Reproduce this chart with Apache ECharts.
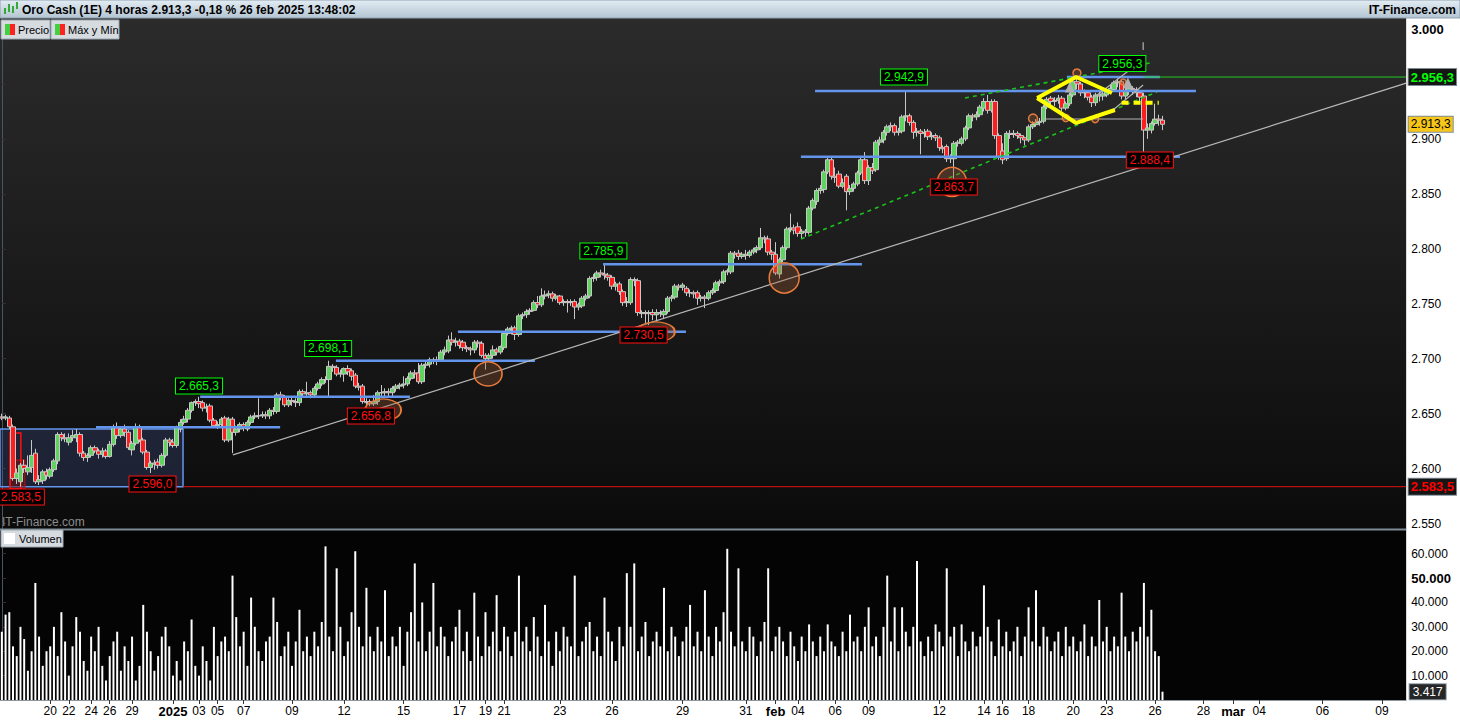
<!DOCTYPE html>
<html><head><meta charset="utf-8">
<script src="https://cdn.jsdelivr.net/npm/echarts@6/dist/echarts.min.js"></script>
<style>html,body{margin:0;padding:0;background:#fff;}#c{width:1460px;height:720px;}</style>
</head><body><div id="c"></div>
<script>
// ---------- DATA ----------
// 4h candles [open, close, low, high], 18 dic 2024 -> 26 feb 2025
const ohlc = [
[2647,2646,2644,2650],[2646,2647,2644,2649],[2646,2638,2636,2648],[2638,2591,2589,2640],[2591,2596,2586,2600],
[2588,2603,2583.5,2605],[2603,2600,2596,2608],[2597,2601,2594,2612],[2601,2612,2596,2626],[2614,2588,2586,2618],
[2588,2590,2585,2594],[2589,2597,2586,2599],[2597,2594,2590,2600],[2593,2599,2591,2601],[2599,2607,2597,2609],
[2607,2631,2604,2633],[2631,2628,2625,2633],[2628,2627,2624,2632],[2624,2628,2621,2632],[2628,2630,2625,2635],
[2628,2631,2624,2636],[2631,2614,2611,2633],[2614,2610,2607,2616],[2610,2612,2606,2614],[2612,2619,2610,2621],
[2619,2616,2614,2621],[2616,2613,2609,2618],[2613,2616,2610,2619],[2616,2611,2609,2618],[2611,2622,2610,2625],
[2622,2637,2620,2640],[2637,2630,2627,2642],[2630,2636,2628,2638],[2636,2633,2629,2640],[2633,2619,2617,2635],
[2617,2623,2612,2625],[2623,2638,2621,2641],[2638,2626,2624,2640],[2626,2615,2613,2628],[2615,2601,2599,2617],
[2601,2605,2596,2607],[2605,2604,2599,2608],[2606,2603,2600,2609],[2603,2612,2601,2614],[2612,2626,2610,2628],
[2626,2624,2620,2628],[2624,2621,2619,2627],[2621,2637,2619,2639],[2636,2642,2633,2645],[2642,2645,2640,2648],
[2645,2653,2642,2655],[2653,2660,2651,2661],[2660,2661,2657,2663],[2661,2659,2655,2665.3],[2660,2655,2652,2662],
[2655,2656,2651,2659],[2657,2644,2642,2659],[2644,2639,2637,2646],[2639,2640,2636,2643],[2640,2645,2638,2647],
[2646,2626,2624,2648],[2626,2645,2624,2647],[2645,2633,2614,2647],[2633,2636,2630,2639],[2636,2640,2633,2642],
[2640,2637,2634,2642],[2636,2642,2634,2644],[2642,2647,2640,2649],[2647,2648,2645,2651],[2648,2648,2645,2664],
[2648,2649,2646,2652],[2649,2648,2645,2652],[2648,2653,2645,2655],[2653,2652,2649,2656],[2652,2667,2650,2669],
[2667,2665,2662,2670],[2665,2658,2656,2667],[2658,2662,2656,2664],[2662,2661,2657,2665],[2661,2660,2656,2664],
[2660,2670,2657,2672],[2670,2668,2665,2672],[2668,2669,2665,2679],[2669,2667,2664,2671],[2667,2673,2665,2675],
[2673,2677,2671,2679],[2677,2681,2675,2683],[2681,2681,2678,2684],[2681,2693,2665,2698.1],[2693,2692,2688,2695],
[2692,2686,2684,2694],[2686,2687,2683,2690],[2686,2691,2679,2692],[2691,2688,2685,2694],[2689,2684,2680,2691],
[2685,2675,2673,2687],[2675,2674,2671,2678],[2675,2661,2659,2677],[2661,2660,2657,2664],[2661,2659,2656.8,2663],
[2659,2661,2657,2667],[2661,2669,2658,2671],[2669,2669,2665,2676],[2669,2670,2666,2673],[2670,2669,2665,2673],
[2669,2673,2666,2675],[2673,2675,2670,2677],[2675,2676,2672,2678],[2676,2677,2673,2684],[2677,2682,2675,2684],
[2682,2687,2680,2689],[2687,2686,2682,2690],[2687,2679,2677,2696],[2679,2694,2677,2696],[2694,2695,2691,2698],
[2695,2699,2692,2701],[2699,2698,2695,2701],[2698,2699,2694,2702],[2699,2706,2697,2708],[2706,2708,2703,2711],
[2707,2717,2705,2721],[2717,2715,2712,2724],[2715,2716,2711,2719],[2716,2712,2709,2718],[2715,2710,2707,2717],
[2710,2709,2706,2712],[2709,2708,2703,2711],[2708,2715,2705,2717],[2715,2714,2710,2717],[2714,2703,2701,2716],
[2703,2700,2690,2705],[2700,2703,2697,2705],[2703,2708,2700,2712],[2708,2706,2703,2710],[2706,2711,2704,2712],
[2710,2723,2708,2725],[2723,2727,2721,2729],[2727,2728,2722,2730],[2728,2722,2717,2730],[2722,2739,2720,2741],
[2739,2740,2736,2742],[2740,2743,2737,2745],[2743,2744,2740,2746],[2744,2751,2743,2753],[2751,2749,2746,2757],
[2749,2757,2747,2764],[2757,2758,2754,2762],[2758,2759,2755,2762],[2759,2755,2752,2761],[2755,2757,2753,2759],
[2757,2751,2749,2758],[2751,2752,2748,2754],[2752,2751,2742,2754],[2751,2752,2748,2754],[2752,2747,2736,2754],
[2747,2749,2744,2751],[2748,2755,2746,2757],[2755,2757,2753,2759],[2757,2773,2755,2775],[2773,2774,2770,2777],
[2774,2778,2771,2780],[2778,2777,2774,2781],[2777,2776,2772,2785.9],[2776,2774,2771,2778],[2774,2766,2763,2776],
[2766,2768,2762,2770],[2768,2761,2758,2770],[2761,2751,2748,2763],[2751,2752,2747,2756],[2751,2772,2749,2774],
[2772,2771,2766,2774],[2771,2742,2739,2773],[2742,2741,2737,2744],[2741,2742,2732,2744],[2742,2741,2730.5,2744],
[2742,2740,2735,2745],[2740,2742,2734,2745],[2742,2741,2738,2744],[2740,2743,2736,2745],[2743,2755,2741,2757],
[2755,2756,2752,2758],[2756,2766,2754,2768],[2766,2765,2762,2768],[2765,2767,2762,2769],[2764,2760,2757,2766],
[2760,2760,2756,2763],[2760,2759,2755,2762],[2760,2755,2749,2762],[2755,2756,2752,2758],[2756,2755,2746,2758],
[2755,2760,2753,2762],[2760,2762,2758,2764],[2762,2769,2760,2771],[2769,2770,2766,2772],[2770,2779,2768,2781],
[2779,2780,2776,2782],[2779,2796,2777,2798],[2796,2795,2791,2798],[2796,2793,2790,2799],[2793,2795,2791,2797],
[2795,2794,2790,2799],[2794,2797,2792,2799],[2797,2799,2795,2801],[2799,2801,2796,2803],[2801,2810,2799,2819],
[2810,2809,2805,2812],[2809,2797,2794,2812],[2797,2795,2790,2799],[2795,2778,2776,2806],[2777,2790,2773,2792],
[2790,2801,2788,2803],[2801,2818,2799,2820],[2818,2819,2815,2832],[2819,2817,2813,2822],[2820,2814,2811,2824],
[2814,2816,2809,2818],[2816,2815,2811,2818],[2815,2837,2813,2839],[2837,2844,2835,2846],[2843,2853,2840,2855],
[2853,2855,2850,2858],[2854,2870,2851,2872],[2870,2881,2868,2883],[2881,2866,2863,2883],[2866,2865,2860,2874],
[2868,2857,2855,2871],[2857,2860,2855,2864],[2866,2852,2835,2868],[2852,2855,2849,2858],[2855,2859,2852,2861],
[2859,2869,2857,2871],[2869,2881,2867,2883],[2881,2862,2859,2888],[2862,2874,2858,2876],[2874,2871,2868,2878],
[2872,2897,2870,2899],[2897,2899,2894,2902],[2899,2906,2896,2908],[2906,2911,2903,2913],[2911,2912,2907,2915],
[2912,2906,2903,2914],[2906,2907,2903,2910],[2907,2920,2905,2922],[2920,2921,2916,2942.9],[2921,2915,2912,2923],
[2915,2906,2900,2917],[2906,2907,2902,2910],[2907,2905,2886,2909],[2905,2906,2901,2909],[2907,2902,2899,2909],
[2902,2903,2899,2906],[2903,2901,2898,2905],[2901,2892,2889,2903],[2892,2891,2887,2894],[2893,2882,2879,2895],
[2882,2883,2878,2886],[2882,2896,2863.7,2898],[2896,2897,2893,2899],[2896,2900,2894,2902],[2900,2910,2898,2912],
[2910,2921,2908,2923],[2921,2920,2916,2923],[2920,2922,2917,2925],[2922,2929,2920,2931],[2928,2934,2925,2937],
[2934,2926,2923,2940],[2926,2934,2924,2936],[2934,2903,2900,2936],[2903,2884,2881,2905],[2889,2881,2877,2896],
[2882,2905,2880,2907],[2905,2904,2900,2908],[2904,2905,2901,2908],[2905,2903,2900,2907],[2903,2901,2896,2905],
[2901,2899,2894,2902],[2899,2911,2897,2913],[2911,2913,2909,2916],[2913,2915,2911,2918],[2915,2916,2912,2919],
[2916,2929,2914,2931],[2929,2936,2927,2938],[2937,2934,2931,2939],[2934,2935,2930,2938],[2935,2937,2932,2940],
[2937,2928,2925,2939],[2928,2932,2926,2934],[2932,2940,2930,2942],[2940,2952,2938,2954],[2952,2950,2945,2956.3],
[2950,2942,2939,2952],[2942,2942,2937,2945],[2942,2938,2935,2944],[2938,2933,2929,2940],[2933,2940,2930,2942],
[2940,2939,2934,2943],[2939,2941,2935,2944],[2940,2944,2938,2946],[2944,2946,2941,2949],[2945,2951,2943,2953],
[2951,2952,2947,2955],[2952,2939,2936,2954],[2939,2944,2936,2947],[2944,2946,2940,2949],[2946,2945,2940,2948],
[2945,2942,2938,2947],[2942,2938,2934,2944],[2939,2908,2888.4,2942],[2908,2910,2900,2914],[2908,2914,2905,2916],
[2914,2918,2912,2932],[2918,2917,2912,2922],[2917,2913.3,2908,2921]
];
// volume per candle, in thousands
const volumeK = [
28,35,36,22,18,30,25,12,20,48, 26,14,20,22,30,18,36,24,10,22,
34,28,16,12,26,20,30,14,8,18, 24,28,12,22,16,26,8,14,39,28,
20,12,18,26,30,22,10,16,8,24, 20,33,14,10,22,16,8,30,18,24,
26,20,51,34,22,28,14,42,30,20, 16,24,26,42,32,18,22,28,14,24,
37,20,26,18,28,22,32,63,26,20, 54,30,18,24,36,61,30,22,46,26,
20,30,24,45,18,26,22,30,14,28, 36,56,24,40,20,28,48,22,30,26,
18,24,30,37,20,28,16,44,26,18, 36,22,28,43,20,30,26,18,28,51,
24,30,20,34,26,18,39,24,14,28, 20,30,26,22,51,18,24,30,32,20,
26,18,42,28,24,16,30,22,52,30, 56,20,26,32,18,24,28,22,46,20,
30,26,18,24,30,39,22,28,20,45, 26,18,30,24,36,62,28,22,54,24,
20,30,26,18,24,32,54,20,26,30, 24,18,28,22,16,26,20,31,24,18,
26,20,31,24,22,18,28,20,35,24, 26,20,30,38,22,26,18,30,51,24,
38,20,38,28,22,30,57,24,18,26, 20,31,28,22,54,26,30,18,31,24,
20,28,22,26,47,30,24,18,33,22, 28,20,24,30,18,26,38,24,45,22,
30,26,20,24,28,18,30,22,26,20, 24,31,18,26,22,41,24,30,20,26,
22,44,26,20,28,24,30,48,26,37, 20,18,3.417
];
const VOL_UNIT = 1000;
// date tick labels: [candle slot, text]
const tickLabels = [[13,'20'],[18,'22'],[24,'24'],[29,'26'],[35,'29'],[46,'2025'],[53,'03'],[58,'05'],[65,'07'],[78,'09'],
[92,'12'],[108,'15'],[123,'17'],[130,'19'],[135,'21'],[150,'23'],[164,'26'],[183,'29'],[200,'31'],[208,'feb'],[214,'04'],
[224,'06'],[233,'09'],[252,'12'],[264,'14'],[269,'16'],[276,'18'],[288,'20'],[297,'23'],[310,'26'],[323,'28'],[331,'mar'],
[338,'04'],[355,'06'],[371,'09']];
const boldTicks = ['2025','feb','mar'];
const SLOTS = 378; // candle slots incl. empty future

// annotations (slot, price)
const hLines = [[25.3,74.8,2637.5],[53.3,109.7,2665.3],[89.8,143.3,2698.1],[122.6,183.9,2724.5],[161.6,231.2,2785.9],[214.8,316.7,2883.8],[218.6,321,2943.5],[286.3,311.3,2956.3]];
const trendLine = [[62.1,2612.4],[377.5,2950.8]];
const greenDashed = [[[214.8,2808.9],[310.5,2942.7]],[[258.9,2937.2],[308.6,2969.1]]];
const diamondLines = [[[278.3,2937.2],[288.8,2956.3],[298.4,2941.8]],[[278.3,2937.2],[288.8,2914.5],[299.2,2926.3]]];
const grayLines = [[[279.9,2918.1],[306.8,2918.1]],[[293.3,2936.9],[304.2,2965.4]],[[298.7,2926.3],[306.8,2949]],[[306.8,2981],[306.8,2988]]];
const yellowDash = [[301,2933],[311,2933]];
const highLabels = [[53,2675.2,2665.3],[87.7,2709.3,2698.1],[161.7,2798,2785.9],[242.5,2956.3,2942.9],[301.2,2968.6,2956.3]];
const lowLabels = [[5.1,2574.2,2583.5],[40.5,2586,2596.0],[99.2,2647.9,2656.8],[172.5,2721.6,2730.5],[255.9,2856.2,2863.7],[308.6,2880.8,2888.4]];
const circles = [[102.5,2653.3,36,22],[130.7,2686.1,28,24],[175.8,2724.3,38,20],[210.3,2773.4,30,30],[255.4,2860.8,29,29],
[277.2,2918.6,9,9],[289,2960,8,8],[286,2919,7,7],[293.9,2918,7,7],[301.4,2951.8,6,6]];
const triangles = [[287.1,2947.2],[302.7,2950.9]];
const rangeBox = [[-0.5,2636],[48.7,2583.5]];
const redBox = [[2.2,2632.4],[5.1,2581.4]];
const redFill = [[2.2,2607.8],[6.2,2581.4]];
const tagHigh = [306.8,2956.3];
const tagLow = [48.7,2583.5];
const lastPrice = 2913.3;
const hiddenPriceTicks = [2950]; // covered by the 2.956,3 tag in the reference
const title = 'Oro Cash (1E) 4 horas 2.913,3 -0,18 % 26 feb 2025 13:48:02';

// ---------- HELPERS ----------
const thou = v => String(Math.round(v)).replace(/\B(?=(\d{3})+(?!\d))/g,'.');
const price = v => { const p = v.toFixed(1).split('.'); return thou(+p[0]) + ',' + p[1]; };
const labelMap = {}; tickLabels.forEach(t => labelMap[t[0]] = t[1]);
const cats = Array.from({length:SLOTS}, (_,i)=>String(i));
const FONT = '"Liberation Sans", Arial, sans-serif';
const NARROW = '"Liberation Sans Narrow", "Liberation Sans", Arial, sans-serif';
const SP = 3.72, GW = SLOTS*SP;

const seg = (pts, style, z) => ({type:'line', xAxisIndex:1, yAxisIndex:0, data:pts, symbol:'none', silent:true,
  animation:false, lineStyle:style, z:z||4, clip:false});

const series = [];
series.push({type:'candlestick', xAxisIndex:0, yAxisIndex:0, data:ohlc, barWidth:5, animation:false, z:3,
  itemStyle:{color:'#5fd35f', color0:'#ff1c1c', borderColor:'#c8c8c8', borderColor0:'#c8c8c8', borderColorDoji:'#c8c8c8', borderWidth:1}});
series.push({type:'bar', xAxisIndex:2, yAxisIndex:1, data:volumeK, barWidth:2, animation:false, itemStyle:{color:'#ffffff'}});
hLines.forEach(h => series.push(seg([[h[0],h[2]],[h[1],h[2]]], {color:'#6495ed', width:2.5})));
series.push(seg(trendLine, {color:'#b8b8b8', width:1.2}));
greenDashed.forEach(l => series.push(seg(l, {color:'#19c419', width:1.6, type:[4,4]})));
diamondLines.forEach(l => series.push(seg(l, {color:'#ffff00', width:4}, 6)));
grayLines.forEach(l => series.push(seg(l, {color:'#b4b4b4', width:1.2})));
series.push(seg(yellowDash, {color:'#ffff00', width:4, type:[7,5]}, 6));
series.push(seg([[tagHigh[0],tagHigh[1]],[SLOTS-0.5,tagHigh[1]]], {color:'#22cc22', width:1}));
series.push(seg([[tagLow[0],tagLow[1]],[SLOTS-0.5,tagLow[1]]], {color:'#e01010', width:1}));

const boxLabel = (c, p, v, col) => ({coord:[c,p], symbol:'rect', symbolSize:1, itemStyle:{color:'rgba(0,0,0,0)'},
  label:{show:true, position:'inside', formatter:price(v), color:col, backgroundColor:'#000', borderColor:col, borderWidth:1,
    padding:[2,3,1,3], fontSize:12, fontFamily:FONT}});
const tag = (v, col, bg, bold) => ({coord:[SLOTS-0.5, v], symbol:'rect', symbolSize:1, itemStyle:{color:'rgba(0,0,0,0)'},
  label:{show:true, position:'right', distance:2, formatter:price(v), color:col, backgroundColor:bg, borderColor:'#7d8b96', borderWidth:1,
    padding:[2,2,1,2], fontSize:bold?13:12, fontWeight:bold?'bold':'normal', fontFamily:FONT}});

const mp = [];
highLabels.forEach(l => mp.push(boxLabel(l[0], l[1], l[2], '#00ff00')));
lowLabels.forEach(l => mp.push(boxLabel(l[0], l[1], l[2], '#ff1010')));
circles.forEach(c => mp.push({coord:[c[0],c[1]], symbol:'circle', symbolSize:[c[2],c[3]], label:{show:false},
  itemStyle:{color:'rgba(160,90,50,0.32)', borderColor:'#e87a3c', borderWidth:1.5}}));
triangles.forEach(t => mp.push({coord:t, symbol:'triangle', symbolSize:[10,11], label:{show:false}, itemStyle:{color:'#b0b0b0'}}));
mp.push(tag(tagHigh[1], '#00ff00', '#151515', true));
mp.push(tag(lastPrice, '#000000', '#f7c61a', false));
mp.push(tag(tagLow[1], '#ff0000', '#151515', true));

series.push({type:'line', xAxisIndex:1, yAxisIndex:0, data:[[0,2600]], symbol:'none', lineStyle:{opacity:0}, silent:true, animation:false, z:7,
  markPoint:{animation:false, silent:true, data:mp},
  markArea:{animation:false, silent:true, data:[
    [{coord:rangeBox[0], itemStyle:{color:'rgba(70,90,150,0.28)', borderColor:'#6495ed', borderWidth:1.5}}, {coord:rangeBox[1]}],
    [{coord:redFill[0], itemStyle:{color:'rgba(110,20,20,0.55)', borderColor:'#c01010', borderWidth:1}}, {coord:redFill[1]}],
    [{coord:redBox[0], itemStyle:{color:'rgba(0,0,0,0)', borderColor:'#ff1010', borderWidth:1.5}}, {coord:redBox[1]}]
  ]}});
series.push({type:'line', xAxisIndex:3, yAxisIndex:1, data:[[0,0]], symbol:'none', lineStyle:{opacity:0}, silent:true, animation:false, z:7,
  markPoint:{animation:false, silent:true, data:[{coord:[SLOTS-0.5, volumeK[volumeK.length-1]], symbol:'rect', symbolSize:1,
    itemStyle:{color:'rgba(0,0,0,0)'}, label:{show:true, position:'right', distance:3, formatter:thou(volumeK[volumeK.length-1]*VOL_UNIT),
    color:'#fff', backgroundColor:'#262626', borderColor:'#8a98a4', borderWidth:1, padding:[2,3,1,3], fontSize:12, fontFamily:FONT}}]}});

const tickShow = (i) => labelMap[i] !== undefined;
const option = {
  backgroundColor:'#ffffff',
  animation:false,
  grid:[{left:0, top:19, width:GW, height:510}, {left:0, top:531, width:GW, height:169}],
  xAxis:[
    {type:'category', gridIndex:0, data:cats, boundaryGap:true, show:false},
    {type:'value', gridIndex:0, min:-0.5, max:SLOTS-0.5, show:false},
    {type:'category', gridIndex:1, data:cats, boundaryGap:true,
      axisLine:{show:true, lineStyle:{color:'#8a98a4'}},
      axisTick:{show:true, alignWithLabel:true, interval:tickShow, length:4, lineStyle:{color:'#333'}},
      axisLabel:{interval:tickShow, margin:5, color:'#000', fontSize:12, fontFamily:NARROW,
        formatter:(v,i)=>{const t=labelMap[i]; if(t===undefined) return ''; return boldTicks.includes(t)?'{b|'+t+'}':t;},
        rich:{b:{fontWeight:'bold', fontSize:13, fontFamily:NARROW, color:'#000'}}},
      splitLine:{show:false}},
    {type:'value', gridIndex:1, min:-0.5, max:SLOTS-0.5, show:false}
  ],
  yAxis:[
    {type:'value', gridIndex:0, position:'right', min:2545, max:3009.1, splitNumber:9, splitLine:{show:false},
      axisLine:{show:true, lineStyle:{color:'#4a5560'}}, axisTick:{show:true, length:4, lineStyle:{color:'#333'}},
      axisLabel:{showMinLabel:false, showMaxLabel:false, margin:5, color:'#000', fontSize:12, fontFamily:FONT,
        formatter:v => hiddenPriceTicks.includes(v) ? '' : (v===3000 ? '{b|'+thou(v)+'}' : thou(v)),
        rich:{b:{fontWeight:'bold', fontSize:13, color:'#000', fontFamily:FONT}}}},
    {type:'value', gridIndex:1, position:'right', min:0, max:69.3, splitNumber:7, splitLine:{show:false},
      axisLine:{show:true, lineStyle:{color:'#4a5560'}}, axisTick:{show:true, length:4, lineStyle:{color:'#333'}},
      axisLabel:{showMinLabel:false, showMaxLabel:false, margin:5, color:'#000', fontSize:12, fontFamily:FONT,
        formatter:v => v===50 ? '{b|'+thou(v*VOL_UNIT)+'}' : thou(v*VOL_UNIT), rich:{b:{fontWeight:'bold', fontSize:13, color:'#000', fontFamily:FONT}}}}
  ],
  graphic:[
    {type:'rect', z:-10, shape:{x:0, y:18, width:GW, height:511}, style:{fill:{type:'linear', x:0, y:0, x2:0, y2:1,
      colorStops:[{offset:0, color:'#2b2b2b'}, {offset:1, color:'#0b0b0b'}]}}},
    {type:'rect', z:-10, shape:{x:0, y:529, width:GW, height:171}, style:{fill:'#040404'}},
    {type:'rect', z:50, shape:{x:0, y:528.5, width:GW, height:2}, style:{fill:'#7d8b96'}},
    {type:'rect', z:50, shape:{x:0, y:0, width:1460, height:18}, style:{fill:{type:'linear', x:0, y:0, x2:0, y2:1,
      colorStops:[{offset:0, color:'#e3ecf3'}, {offset:1, color:'#b3c5d2'}]}, stroke:'#8ea2b2', lineWidth:1}},
    {type:'rect', z:51, shape:{x:4, y:8, width:2, height:6}, style:{fill:'#33aa33'}},
    {type:'rect', z:51, shape:{x:8, y:4, width:2, height:8}, style:{fill:'#33aa33'}},
    {type:'rect', z:51, shape:{x:12, y:6, width:2, height:7}, style:{fill:'#33aa33'}},
    {type:'rect', z:51, shape:{x:16, y:2, width:2, height:7}, style:{fill:'#33aa33'}},
    {type:'text', z:51, x:22, y:10, style:{text:title, font:'bold 12px '+FONT, fill:'#000', verticalAlign:'middle'}},
    {type:'text', z:51, x:1456, y:10, style:{text:'IT-Finance.com', font:'bold 12px '+FONT, fill:'#000', align:'right', verticalAlign:'middle'}},
    {type:'rect', z:50, shape:{x:1, y:20, width:49, height:19}, style:{fill:'#d6dbe0', stroke:'#9aa6b0', lineWidth:1}},
    {type:'rect', z:51, shape:{x:5, y:24, width:5, height:11}, style:{fill:'#40d040'}},
    {type:'rect', z:51, shape:{x:10, y:24, width:5, height:11}, style:{fill:'#ff2020'}},
    {type:'text', z:52, x:18, y:30, style:{text:'Precio', font:'11px '+FONT, fill:'#000', verticalAlign:'middle'}},
    {type:'rect', z:50, shape:{x:51, y:20, width:68, height:19}, style:{fill:'#d6dbe0', stroke:'#9aa6b0', lineWidth:1}},
    {type:'rect', z:51, shape:{x:55, y:24, width:5, height:11}, style:{fill:'#40d040'}},
    {type:'rect', z:51, shape:{x:60, y:24, width:5, height:11}, style:{fill:'#ff2020'}},
    {type:'text', z:52, x:68, y:30, style:{text:'Máx y Mín', font:'11px '+FONT, fill:'#000', verticalAlign:'middle'}},
    {type:'text', z:51, x:2, y:522, style:{text:'IT-Finance.com', font:'12px '+FONT, fill:'#8c8c8c', verticalAlign:'middle'}},
    {type:'rect', z:50, shape:{x:1, y:530, width:62, height:17}, style:{fill:'#d6dbe0', stroke:'#9aa6b0', lineWidth:1}},
    {type:'rect', z:51, shape:{x:4, y:533, width:11, height:11}, style:{fill:'#ffffff'}},
    {type:'text', z:52, x:19, y:539, style:{text:'Volumen', font:'11px '+FONT, fill:'#000', verticalAlign:'middle'}}
  ],
  series:series
};
const chart = echarts.init(document.getElementById('c'), null, {renderer:'svg'});
chart.setOption(option);
</script></body></html>
